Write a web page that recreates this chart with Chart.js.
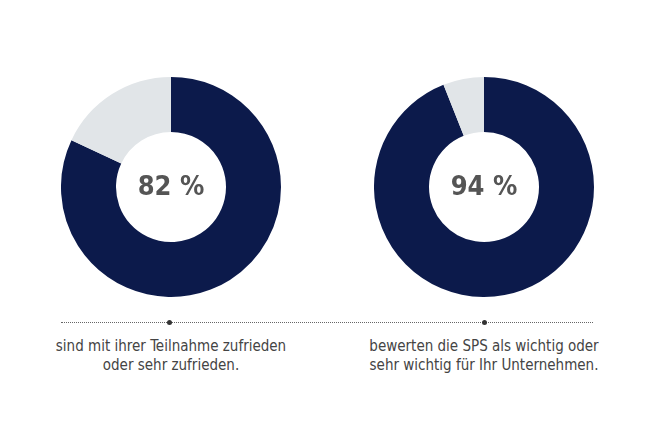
<!DOCTYPE html>
<html>
<head>
<meta charset="utf-8">
<script src="https://cdn.jsdelivr.net/npm/chart.js@4"></script>
<style>
  body { margin: 0; background: #fff; width: 646px; height: 436px; position: relative; overflow: hidden;
         font-family: "Liberation Sans Narrow", "DejaVu Sans Condensed", sans-serif; }
  .box { position: absolute; top: 77px; width: 220px; height: 220px; }
  .line { position: absolute; top: 322px; left: 61px; width: 532px; border-top: 1px dotted #666; }
  .dot { position: absolute; top: 320px; width: 5px; height: 5px; border-radius: 50%; background: #333; }
  .cap { position: absolute; top: 337px; width: 300px; text-align: center; color: #444; font-size: 15px; line-height: 19px; }
</style>
</head>
<body>
<div class="box" style="left:61px"><canvas id="c1"></canvas></div>
<div class="box" style="left:374px"><canvas id="c2"></canvas></div>
<div class="line"></div>
<div class="dot" style="left:167px"></div>
<div class="dot" style="left:482px"></div>
<div class="cap" style="left:21px">sind mit ihrer Teilnahme zufrieden<br>oder sehr zufrieden.</div>
<div class="cap" style="left:334px">bewerten die SPS als wichtig oder<br>sehr wichtig für Ihr Unternehmen.</div>
<script>
// Anteile in Prozent
const shares = [82, 94];
const labels = ['Zufrieden', 'Wichtig'];
const colors = ['#0c1a4b', '#e1e5e8'];

const centerText = {
  id: 'centerText',
  afterDraw(chart) {
    const { ctx, chartArea } = chart;
    const x = (chartArea.left + chartArea.right) / 2;
    const y = (chartArea.top + chartArea.bottom) / 2;
    ctx.save();
    ctx.fillStyle = '#555';
    ctx.font = 'bold 27px "Liberation Sans Narrow", "DejaVu Sans Condensed", sans-serif';
    ctx.textAlign = 'center';
    ctx.textBaseline = 'middle';
    ctx.fillText(chart.options.plugins.centerText.text, x, y + 1);
    ctx.restore();
  }
};

['c1', 'c2'].forEach((id, i) => {
  new Chart(document.getElementById(id), {
    type: 'doughnut',
    data: {
      labels: [labels[i], 'Rest'],
      datasets: [{
        data: [shares[i], 100 - shares[i]],
        backgroundColor: colors,
        borderWidth: 0
      }]
    },
    options: {
      responsive: true,
      maintainAspectRatio: false,
      animation: false,
      cutout: '50%',
      layout: { padding: 0 },
      plugins: {
        legend: { display: false },
        tooltip: { enabled: false },
        centerText: { text: shares[i] + ' %' }
      }
    },
    plugins: [centerText]
  });
});
</script>
</body>
</html>
